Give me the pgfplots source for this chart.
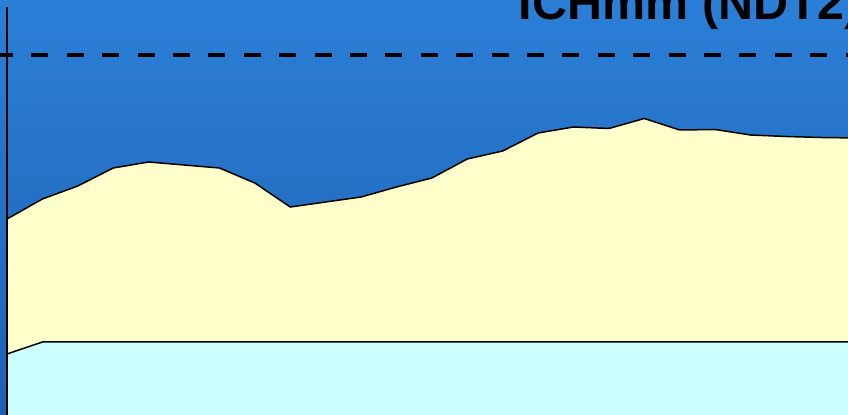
\documentclass[border=0pt]{standalone}
\usepackage{pgfplots}
\usepackage{pgfplotstable}
\pgfplotsset{compat=1.18}
\usepackage{fontspec}
\setmainfont{Liberation Sans}
\definecolor{bgtop}{RGB}{43,127,215}
\definecolor{bgbot}{RGB}{30,97,178}
\definecolor{yel}{RGB}{255,255,204}
\definecolor{cya}{RGB}{204,255,255}
\pgfplotstableread{
x y
0 196
1 216
2 229
3 247
4 253
5 250
6 247
7 232
8 208
9 213
10 218
11 228
12 237
13 256
14 264
15 282
16 288
17 286.5
18 296.5
19 285
20 285.5
21 280
22 278.5
23 277.5
24 277
}\uppertab
\pgfplotstableread{
x y
0 61
1 73
2 73
3 73
4 73
5 73
6 73
7 73
8 73
9 73
10 73
11 73
12 73
13 73
14 73
15 73
16 73
17 73
18 73
19 73
20 73
21 73
22 73
23 73
24 73
}\lowertab
\begin{document}
\begin{tikzpicture}
\useasboundingbox (0,0) rectangle (848bp,415bp);
\clip (0,0) rectangle (848bp,415bp);
\fill[top color=bgtop, bottom color=bgbot] (0,0) rectangle (848bp,415bp);
\begin{axis}[
  at={(7bp,-10bp)}, anchor=south west,
  scale only axis, width=900bp, height=418bp,
  xmin=0, xmax=25.42, ymin=-10, ymax=408,
  axis lines*=left,
  x axis line style={draw=none},
  y axis line style={line width=1.2bp, black},
  ticks=none, clip=false, axis on top=true,
  title={ICHmm (NDT2)},
  title style={at={(rel axis cs:0.5686,0.9569)}, anchor=base west,
    font=\fontsize{48.5bp}{52bp}\selectfont\bfseries, inner sep=0pt},
]
\addplot[fill=yel, draw=none] table[x=x,y=y] {\uppertab} |- (axis cs:0,-10) -- cycle;
\addplot[fill=cya, draw=none] table[x=x,y=y] {\lowertab} |- (axis cs:0,-10) -- cycle;
\addplot[black, line width=1.5bp] table[x=x,y=y] {\uppertab};
\addplot[black, line width=1.5bp] table[x=x,y=y] {\lowertab};
\addplot[black, line width=4bp, dash pattern=on 17bp off 18.4bp] coordinates {(-0.3107,360) (25,360)};
\end{axis}
\end{tikzpicture}
\end{document}
